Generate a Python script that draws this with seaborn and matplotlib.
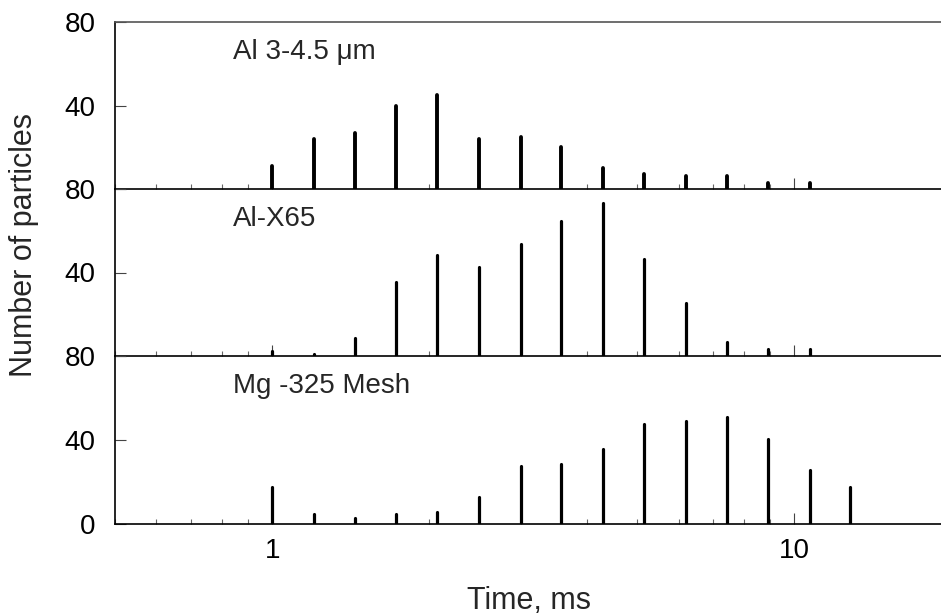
import matplotlib
matplotlib.use("Agg")
import matplotlib.pyplot as plt
import seaborn as sns
import pandas as pd
from matplotlib.ticker import LogLocator, NullFormatter

# ---- data ----
times = [1.0, 1.2, 1.44, 1.73, 2.07, 2.49, 2.99, 3.58, 4.30, 5.16, 6.19, 7.43, 8.92, 10.7, 12.8]
al_small = [11, 24, 27, 40, 45, 24, 25, 20, 10, 7, 6, 6, 3, 3, None]
al_x65 = [2.5, 1, 8.5, 35.5, 48.5, 42.5, 53.5, 64.5, 73.5, 46.5, 25.5, 6.5, 3.5, 3.5, None]
mg_mesh = [17.5, 4.5, 2.7, 4.5, 5.5, 12.5, 27.5, 28.5, 35.5, 47.5, 49, 51, 40.5, 25.5, 17.5]
panel_labels = ["Al 3-4.5 \u03bcm", "Al-X65", "Mg -325 Mesh"]
series = [al_small, al_x65, mg_mesh]
ytick_vals = [0, 40, 80]
xtick_vals = [1, 10]
xtick_labels = ["1", "10"]

sns.set_style("ticks")
plt.rcParams["font.family"] = ["Liberation Sans", "DejaVu Sans"]

W, H = 941, 616
fig = plt.figure(figsize=(W / 100, H / 100), dpi=100)

# panel geometry in pixels (top, bottom)
panels_px = [(22, 189), (189, 356), (356, 523.7)]
left_px, right_px = 115, 941
lws = [2.8, 2.3, 2.3]

for i, ((top, bot), vals, lab) in enumerate(zip(panels_px, series, panel_labels)):
    ax = fig.add_axes([left_px / W, 1 - bot / H, (right_px - left_px) / W, (bot - top) / H])
    df = pd.DataFrame({"t": times, "n": vals}).dropna()
    ax.vlines(df["t"], 0, df["n"], color="black", linewidth=lws[i], capstyle="round", zorder=2)
    ax.set_xscale("log")
    ax.set_xlim(0.5, 19.09)
    ax.set_ylim(0, 80)
    ax.set_xticks(xtick_vals)
    ax.xaxis.set_minor_locator(LogLocator(base=10, subs=[2, 3, 4, 5, 6, 7, 8, 9]))
    ax.xaxis.set_minor_formatter(NullFormatter())
    ax.set_yticks(ytick_vals)
    if i < 2:
        ax.set_xticklabels(["", ""])
        ax.set_yticklabels(["", "40", "80"])
    else:
        ax.set_xticklabels(xtick_labels)
        ax.set_yticklabels(["0", "40", "80"])
    ax.tick_params(axis="both", which="major", direction="in", length=8.2, width=0.8,
                   color="#444444", labelsize=20, labelcolor="black")
    ax.tick_params(axis="x", which="major", pad=10)
    ax.tick_params(axis="y", which="major", pad=14)
    ax.tick_params(axis="x", which="minor", direction="in", length=3.6, width=0.8, color="#666666")
    ax.tick_params(axis="y", which="minor", left=False)
    for side in ["left", "bottom"]:
        ax.spines[side].set_color("black")
        ax.spines[side].set_linewidth(1.2)
    ax.spines["right"].set_visible(False)
    if i == 0:
        ax.spines["top"].set_color("#555555")
        ax.spines["top"].set_linewidth(1.2)
    else:
        ax.spines["top"].set_visible(False)
    ax.patch.set_alpha(0)
    ax.text(0.1429, 62.5, lab, transform=ax.get_yaxis_transform() if False else ax.transAxes,
            fontsize=20, ha="left", va="baseline") if False else None
    ax.text((233 - left_px) / (right_px - left_px), 62.5 / 80, lab, transform=ax.transAxes,
            fontsize=20, ha="left", va="baseline")

fig.text(24 / W, 1 - 245 / H, "Number of particles", rotation=90, fontsize=22,
         ha="center", va="center")
fig.text(529 / W, 1 - 609.3 / H, "Time, ms", fontsize=22, ha="center", va="baseline")

fig.savefig("out.png", dpi=100)
